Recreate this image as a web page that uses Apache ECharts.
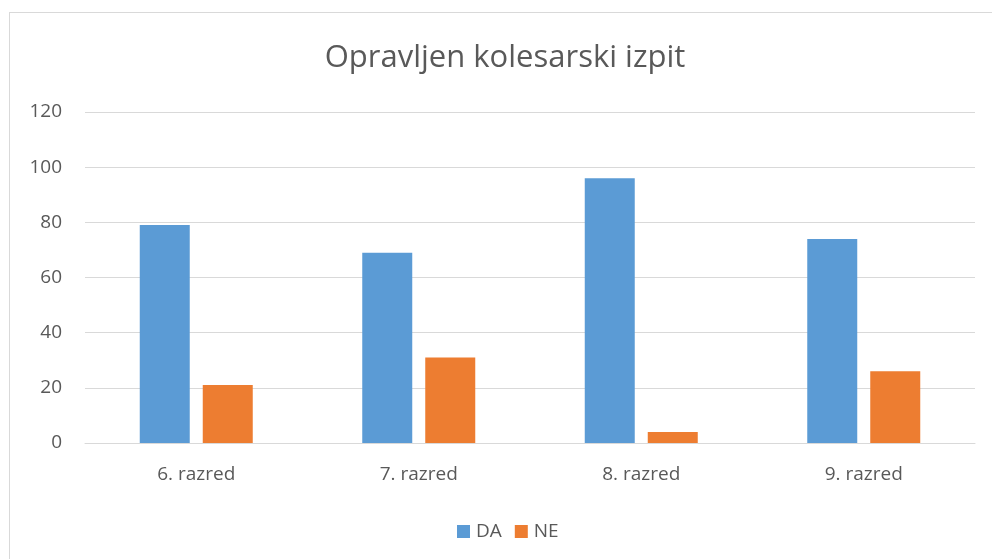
<!DOCTYPE html>
<html>
<head>
<meta charset="utf-8">
<script src="https://cdn.jsdelivr.net/npm/echarts@6/dist/echarts.min.js"></script>
<style>
  html, body { margin: 0; padding: 0; background: #fff; }
  #wrap { position: relative; width: 992px; height: 559px; overflow: hidden; }
  #frame { position: absolute; left: 9px; top: 12px; width: 1000px; height: 600px; border: 1px solid #d9d9d9; }
  #chart { position: absolute; left: 0; top: 0; width: 992px; height: 559px; }
</style>
</head>
<body>
<div id="wrap">
  <div id="frame"></div>
  <div id="chart"></div>
</div>
<script>
// podatki
const categories = ['6. razred', '7. razred', '8. razred', '9. razred'];
const da = [79, 69, 96, 74];
const ne = [21, 31, 4, 26];
const yTicks = { min: 0, max: 120, interval: 20 };

const font = '"Open Sans", "Noto Sans", sans-serif';
const chart = echarts.init(document.getElementById('chart'));
chart.setOption({
  animation: false,
  textStyle: { fontFamily: font },
  graphic: [{
    type: 'text',
    x: 505, y: 58,
    style: {
      text: 'Opravljen kolesarski izpit',
      font: '31px ' + font,
      fill: '#595959',
      textAlign: 'center',
      textVerticalAlign: 'middle'
    }
  }],
  legend: {
    data: ['DA', 'NE'],
    top: 517,
    left: 452,
    itemWidth: 13,
    itemHeight: 13,
    itemGap: 13,
    icon: 'rect',
    textStyle: { color: '#595959', fontSize: 19, fontFamily: font, padding: [0, 0, 0, 1] }
  },
  grid: { left: 85, right: 17, top: 112, bottom: 116 },
  xAxis: {
    type: 'category',
    data: categories,
    axisLine: { lineStyle: { color: '#d9d9d9', width: 1 } },
    axisTick: { show: false },
    axisLabel: { color: '#595959', fontSize: 19, margin: 22, fontFamily: font }
  },
  yAxis: {
    type: 'value',
    min: yTicks.min, max: yTicks.max, interval: yTicks.interval,
    axisLine: { show: false },
    axisTick: { show: false },
    splitLine: { lineStyle: { color: '#d9d9d9', width: 1 } },
    axisLabel: { color: '#595959', fontSize: 19, margin: 23, fontFamily: font }
  },
  series: [
    { name: 'DA', type: 'bar', data: da, barWidth: 50, barGap: '26%', itemStyle: { color: '#5b9bd5' } },
    { name: 'NE', type: 'bar', data: ne, barWidth: 50, itemStyle: { color: '#ed7d31' } }
  ]
});
</script>
</body>
</html>
